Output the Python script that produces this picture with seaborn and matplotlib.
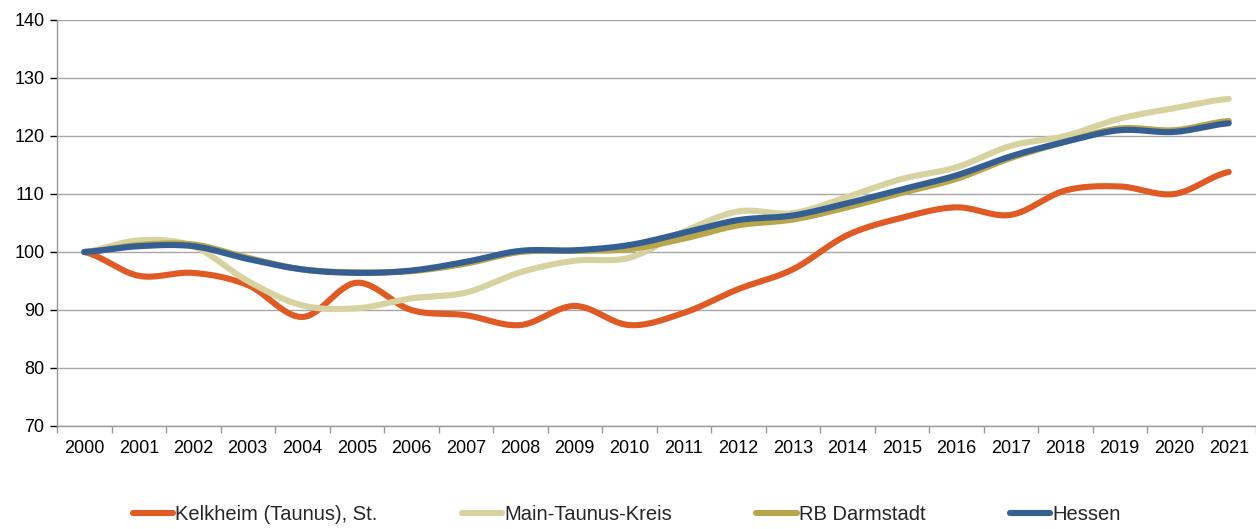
import numpy as np
import pandas as pd
import matplotlib
matplotlib.use("Agg")
import matplotlib.pyplot as plt
import seaborn as sns
from matplotlib import font_manager as fm

years = [str(y) for y in range(2000, 2022)]
kelkheim = [100, 95.9, 96.4, 94.3, 88.8, 94.7, 90.0, 89.1, 87.4, 90.7, 87.4, 89.5,
            93.6, 97.0, 102.9, 105.9, 107.7, 106.4, 110.6, 111.3, 110.0, 113.8]
main_taunus = [100, 102.0, 101.0, 95.0, 90.8, 90.3, 92.0, 93.0, 96.5, 98.5, 99.0, 103.5,
               107.0, 106.7, 109.5, 112.6, 114.6, 118.3, 120.0, 123.0, 124.8, 126.4]
rb_darmstadt = [100, 101.2, 101.3, 99.0, 97.0, 96.5, 96.7, 98.0, 100.0, 100.2, 100.5, 102.3,
                104.6, 105.6, 107.7, 110.2, 112.6, 116.2, 119.0, 121.3, 121.0, 122.6]
hessen = [100, 101.0, 101.0, 98.8, 97.0, 96.4, 96.8, 98.3, 100.2, 100.3, 101.2, 103.3,
          105.5, 106.3, 108.4, 110.8, 113.2, 116.5, 119.0, 121.0, 120.7, 122.2]
series_names = ["Kelkheim (Taunus), St.", "Main-Taunus-Kreis", "RB Darmstadt", "Hessen"]
series_values = [kelkheim, main_taunus, rb_darmstadt, hessen]
colors = ["#E05A24", "#D8D2A0", "#B8A64A", "#355F93"]

sns.set_theme(style="white")
names = [f.name for f in fm.fontManager.ttflist]
fam = "Liberation Sans Narrow" if "Liberation Sans Narrow" in names else "Liberation Sans"
plt.rcParams["font.family"] = [fam, "DejaVu Sans"]


def smooth(y, n=30):
    """Catmull-Rom spline through the points (Excel-like smoothing)."""
    y = np.asarray(y, float)
    x = np.arange(len(y), dtype=float)
    px = np.concatenate([[2 * x[0] - x[1]], x, [2 * x[-1] - x[-2]]])
    py = np.concatenate([[y[0]], y, [y[-1]]])
    xs, ys = [], []
    for i in range(1, len(px) - 2):
        t = np.linspace(0, 1, n, endpoint=False)
        for arr, out in ((px, xs), (py, ys)):
            p0, p1, p2, p3 = arr[i - 1], arr[i], arr[i + 1], arr[i + 2]
            out.append(0.5 * ((2 * p1) + (-p0 + p2) * t + (2 * p0 - 5 * p1 + 4 * p2 - p3) * t ** 2
                              + (-p0 + 3 * p1 - 3 * p2 + p3) * t ** 3))
    xs.append([x[-1]]); ys.append([y[-1]])
    return np.concatenate(xs), np.concatenate(ys)


frames = []
for name, vals in zip(series_names, series_values):
    sx, sy = smooth(vals)
    frames.append(pd.DataFrame({"x": sx, "value": sy, "series": name}))
df = pd.concat(frames, ignore_index=True)

fig = plt.figure(figsize=(12.56, 5.29), dpi=100)
ax = fig.add_axes([57 / 1256, 1 - 426 / 529, 1 - 57 / 1256, (426 - 20) / 529])

sns.lineplot(data=df, x="x", y="value", hue="series", hue_order=series_names,
             palette=colors, linewidth=4.4, sort=False, estimator=None, ax=ax,
             legend=True, solid_capstyle="round")

ax.set_xlim(-0.5, len(years) - 0.5)
ax.set_ylim(70, 140)
ax.set_yticks(range(70, 141, 10))
ax.set_xticks(range(len(years)))
ax.set_xticklabels(years)
ax.set_xticks(np.arange(-0.5, len(years), 1.0), minor=True)
ax.tick_params(axis="x", which="major", length=0, pad=10, labelsize=13, colors="#000000")
ax.tick_params(axis="x", which="minor", length=5, width=1, color="#999999", direction="out", bottom=True)
ax.tick_params(axis="y", which="major", length=5, width=1, color="#999999", direction="out", left=True,
               labelsize=13, colors="#000000", pad=4)
ax.tick_params(axis="y", colors="#000000")
ax.grid(axis="y", color="#a6a6a6", linewidth=1)
ax.set_axisbelow(True)
for s in ["top", "right"]:
    ax.spines[s].set_visible(False)
for s in ["left", "bottom"]:
    ax.spines[s].set_color("#999999")
    ax.spines[s].set_linewidth(1)
ax.set_xlabel("")
ax.set_ylabel("")

handles, labels = ax.get_legend_handles_labels()
ax.legend(handles, labels, loc="lower center", bbox_to_anchor=(0.475, -0.285), ncol=4,
          frameon=False, fontsize=14.5, handlelength=2.0, handletextpad=0.1,
          columnspacing=4.2)
for ln in ax.get_legend().get_lines():
    ln.set_linewidth(4.4)

fig.savefig("out.png", dpi=100)
